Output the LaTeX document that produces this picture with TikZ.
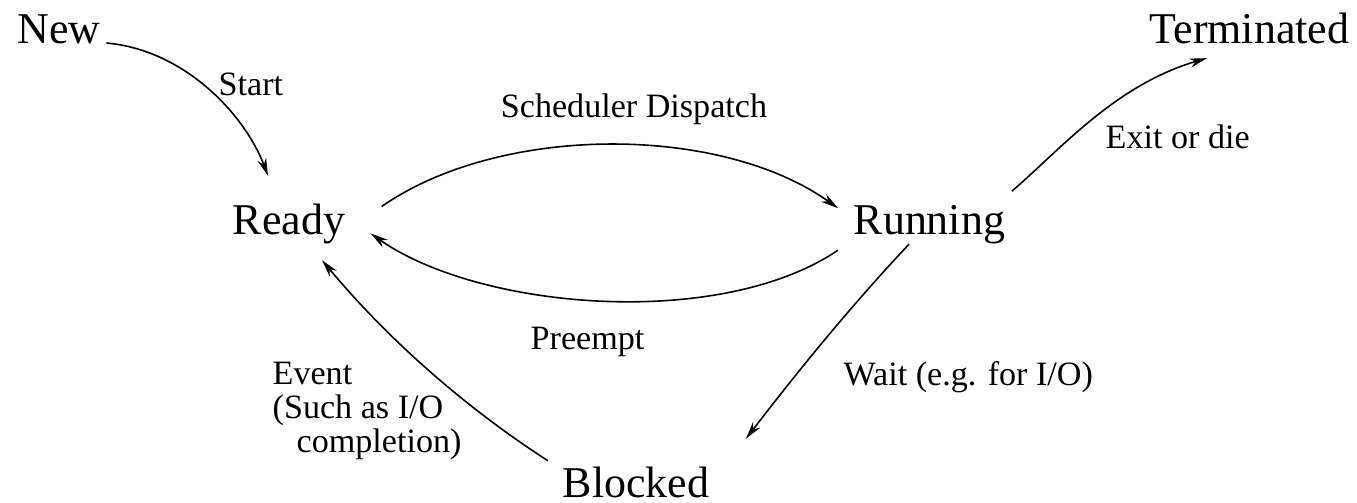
\documentclass[tikz,border=0pt]{standalone}
\usepackage{fontspec}
\setmainfont{Liberation Serif}
\usetikzlibrary{arrows.meta,calc}
\begin{document}
\begin{tikzpicture}[x=0.01cm,y=-0.01cm,
  state/.style={font=\fontsize{12.5}{14}\selectfont, inner sep=0pt},
  lbl/.style={font=\fontsize{9.7}{9.7}\selectfont, inner sep=0pt},
  trans/.style={-{Stealth[length=5pt,width=2.6pt]}, line width=0.45pt}]
\useasboundingbox (0,0) rectangle (1357,503);

% process states
\node[state, anchor=base west] (new)     at (17,43)    {New};
\node[state, anchor=base east] (term)    at (1350,43)  {Terminated};
\node[state, anchor=base west] (ready)   at (232,234)  {Ready};
\node[state, anchor=base west] (running) at (853,234)  {Running};
\node[state, anchor=base west] (blocked) at (562,497)  {Blocked};

% transitions
\draw[trans] ($(new.base east)+(5,0)$)
  .. controls (185,50) and (245,115) .. ($(ready.north west)+(36,-27)$);
\draw[trans] ($(ready.east)+(36,-17)$)
  .. controls (500,124) and (720,124) .. ($(running.west)+(-15,-16)$);
\draw[trans] ($(running.west)+(-15,26)$)
  .. controls (720,330) and (480,310) .. ($(ready.east)+(25,10)$);
\draw[trans] ($(running.north east)+(6,-13)$)
  .. controls (1060,150) and (1115,85) .. ($(term.south west)+(58,14)$);
\draw[trans] ($(running.south west)+(56,0)$)
  .. controls (848,309) and (795,375) .. ($(blocked.north east)+(36,-27)$);
\draw[trans] ($(blocked.north west)+(-14,-5)$)
  .. controls (463,406) and (387,338) .. ($(ready.south west)+(90,16)$);

% transition labels
\node[lbl, anchor=base west] (lstart) at (218,95)  {Start};
\node[lbl, anchor=base]      (lsched) at (634,117) {Scheduler Dispatch};
\node[lbl, anchor=base west] (lexit)  at (1105,148) {Exit or die};
\node[lbl, anchor=base west] (lpre)   at (530,349) {Preempt};
\node[lbl, anchor=base west] (lwait)  at (843,385) {Wait (e.g. for I/O)};
\node[lbl, anchor=north west, align=left] (levent) at (272,361)
  {Event\\(Such as I/O\\\hspace*{6.8pt}completion)};
\end{tikzpicture}
\end{document}
